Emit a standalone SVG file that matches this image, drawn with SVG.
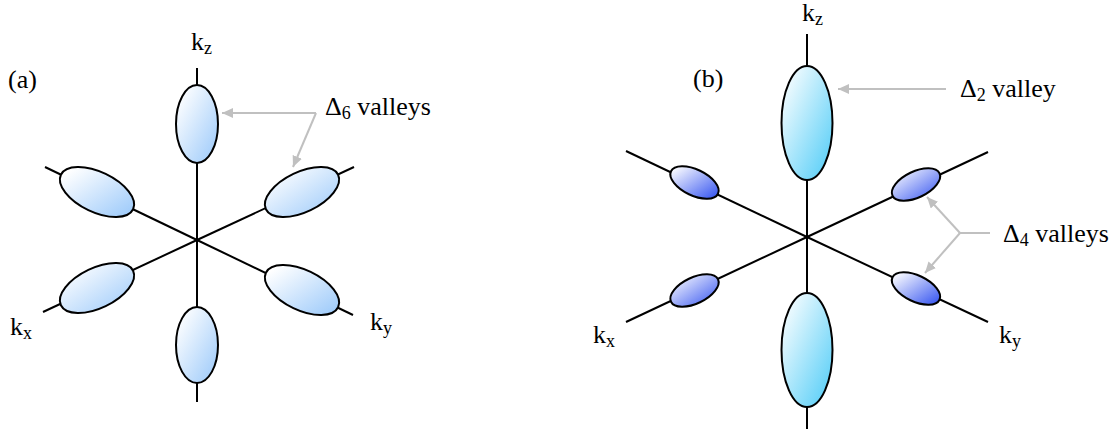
<svg xmlns="http://www.w3.org/2000/svg" width="1119" height="429" viewBox="0 0 1119 429">
<style>
.axis{stroke:#000;stroke-width:2;fill:none}
.ell{stroke:#000;stroke-width:2}
.a{fill:url(#gA)}
.d2{fill:url(#gB)}
.d4{fill:url(#gC)}
.call{stroke:#c0c0c0;stroke-width:2;fill:none}
.arr{marker-end:url(#ah)}
.lbl{font-family:'Liberation Serif','DejaVu Serif','Times New Roman',serif;font-size:26px;fill:#000}
.sub{font-size:18px}
</style>
<defs>
<linearGradient id="gA" x1="0" y1="0" x2="1" y2="1"><stop offset="0.1" stop-color="#ffffff"/><stop offset="1" stop-color="#99c8fa"/></linearGradient>
<linearGradient id="gB" x1="0" y1="0" x2="1" y2="1"><stop offset="0.05" stop-color="#ffffff"/><stop offset="1" stop-color="#4ccbf7"/></linearGradient>
<linearGradient id="gC" x1="0" y1="0" x2="1" y2="1"><stop offset="0.05" stop-color="#ffffff"/><stop offset="1" stop-color="#3050f0"/></linearGradient>
<marker id="ah" markerWidth="12" markerHeight="10" refX="11" refY="5" orient="auto" markerUnits="userSpaceOnUse"><path d="M0,0 L11,5 L0,10 Z" fill="#c0c0c0"/></marker>
</defs>

<g id="axes-a">
<line class="axis" x1="197" y1="68" x2="197" y2="402"/>
<line class="axis" x1="45" y1="167" x2="197" y2="240"/>
<line class="axis" x1="197" y1="240" x2="353" y2="315"/>
<line class="axis" x1="43" y1="312" x2="197" y2="240"/>
<line class="axis" x1="197" y1="240" x2="354" y2="167"/>
</g>
<g id="axes-b">
<line class="axis" x1="807" y1="34" x2="807" y2="429"/>
<line class="axis" x1="626" y1="151" x2="807" y2="237"/>
<line class="axis" x1="807" y1="237" x2="988" y2="322"/>
<line class="axis" x1="626" y1="322" x2="807" y2="237"/>
<line class="axis" x1="807" y1="237" x2="988" y2="152"/>
</g>

<g id="a-valley-top"><ellipse class="ell a" cx="197" cy="124" rx="21" ry="39"/></g>
<g id="a-valley-bottom"><ellipse class="ell a" cx="197" cy="345" rx="21" ry="38"/></g>
<g id="a-valley-ul"><path class="ell a" d="M60.9,174.7 A40,20 25.6 0 1 133.1,209.3 A40,20 25.6 0 1 60.9,174.7 Z"/></g>
<g id="a-valley-ur"><path class="ell a" d="M265.9,209.3 A40,20 -25.6 0 1 338.1,174.7 A40,20 -25.6 0 1 265.9,209.3 Z"/></g>
<g id="a-valley-ll"><path class="ell a" d="M60.9,305.3 A40,20 -25.6 0 1 133.1,270.7 A40,20 -25.6 0 1 60.9,305.3 Z"/></g>
<g id="a-valley-lr"><path class="ell a" d="M265.9,272.7 A40,20 25.6 0 1 338.1,307.3 A40,20 25.6 0 1 265.9,272.7 Z"/></g>

<g id="b-valley-top"><ellipse class="ell d2" cx="807" cy="123" rx="25.5" ry="57"/></g>
<g id="b-valley-bottom"><ellipse class="ell d2" cx="807" cy="350" rx="25.5" ry="57"/></g>
<g id="b-valley-ul"><path class="ell d4" d="M671,171.3 A26,13 25.5 0 1 718,193.7 A26,13 25.5 0 1 671,171.3 Z"/></g>
<g id="b-valley-ur"><path class="ell d4" d="M892.5,195.7 A26,13 -25.5 0 1 939.5,173.3 A26,13 -25.5 0 1 892.5,195.7 Z"/></g>
<g id="b-valley-lr"><path class="ell d4" d="M892.5,277.3 A26,13 25.5 0 1 939.5,299.7 A26,13 25.5 0 1 892.5,277.3 Z"/></g>
<g id="b-valley-ll"><path class="ell d4" d="M671,301.7 A26,13 -25.5 0 1 718,279.3 A26,13 -25.5 0 1 671,301.7 Z"/></g>

<g id="connectors">
<path class="call arr" d="M316,113 L222,113"/>
<path class="call arr" d="M316,113 L293,167"/>
<path class="call arr" d="M946,89 L838,89"/>
<path class="call" d="M990,233 L960,233"/>
<path class="call arr" d="M960,233 L927,197"/>
<path class="call arr" d="M960,233 L925,273"/>
</g>

<g id="labels" font-family="Liberation Serif, serif" font-size="26">
<text class="lbl" x="8" y="88">(a)</text>
<text class="lbl" x="191" y="50">k<tspan class="sub" dy="4">z</tspan></text>
<text class="lbl" x="10" y="335">k<tspan class="sub" dy="4">x</tspan></text>
<text class="lbl" x="370" y="330">k<tspan class="sub" dy="4">y</tspan></text>
<text class="lbl" x="325" y="115">Δ<tspan class="sub" dy="4">6</tspan><tspan dy="-4"> valleys</tspan></text>
<text class="lbl" x="693" y="87">(b)</text>
<text class="lbl" x="802" y="21">k<tspan class="sub" dy="4">z</tspan></text>
<text class="lbl" x="593" y="343">k<tspan class="sub" dy="4">x</tspan></text>
<text class="lbl" x="999" y="343">k<tspan class="sub" dy="4">y</tspan></text>
<text class="lbl" x="960" y="97">Δ<tspan class="sub" dy="4">2</tspan><tspan dy="-4"> valley</tspan></text>
<text class="lbl" x="1003" y="242">Δ<tspan class="sub" dy="4">4</tspan><tspan dy="-4"> valleys</tspan></text>
</g>
</svg>
